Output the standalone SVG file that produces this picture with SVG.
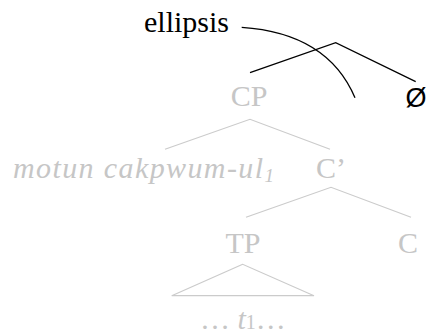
<svg xmlns="http://www.w3.org/2000/svg" width="427" height="335" viewBox="0 0 427 335">
<rect width="427" height="335" fill="#fff"/>
<g id="connectors" fill="none">
<g stroke="#000" stroke-width="1.3">
<polyline points="250,72.7 335.7,42.7 415.7,81.7"/>
<path d="M241.7,27.3 Q327.5,33 355,97.7"/>
</g>
<g stroke="#cbcbcb" stroke-width="1.2">
<polyline points="165,149.3 250,119.3 330,149.3"/>
<polyline points="246,217.3 331,187.3 411,217.3"/>
<polygon points="242.7,264.3 171.7,295.7 314,295.7"/>
</g>
</g>
<g id="ellipsis"><text x="144" y="32" font-family="Liberation Serif" font-size="30" fill="#000">ellipsis</text></g>
<g id="CP"><text x="249" y="106" text-anchor="middle" font-family="Liberation Serif" font-size="30" fill="#c6c6c6">CP</text></g>
<g id="spec"><text x="13" y="178" font-family="Liberation Serif" font-size="30" font-style="italic" fill="#c6c6c6"><tspan textLength="250" lengthAdjust="spacing">motun cakpwum-ul</tspan><tspan font-size="19" dy="4">1</tspan></text></g>
<g id="Cbar"><text x="331" y="178" text-anchor="middle" font-family="Liberation Serif" font-size="30" fill="#c6c6c6">C’</text></g>
<g id="TP"><text x="243" y="253" text-anchor="middle" font-family="Liberation Serif" font-size="30" fill="#c6c6c6">TP</text></g>
<g id="C"><text x="408" y="253" text-anchor="middle" font-family="Liberation Serif" font-size="30" fill="#c6c6c6">C</text></g>
<g id="trace"><text x="200" y="329" font-family="Liberation Serif" font-size="30" fill="#c6c6c6">… <tspan font-style="italic">t</tspan><tspan font-size="20">1</tspan>…</text></g>
<g id="null"><text x="416" y="107" text-anchor="middle" font-family="Liberation Sans" font-size="27" fill="#000">Ø</text></g>
</svg>
